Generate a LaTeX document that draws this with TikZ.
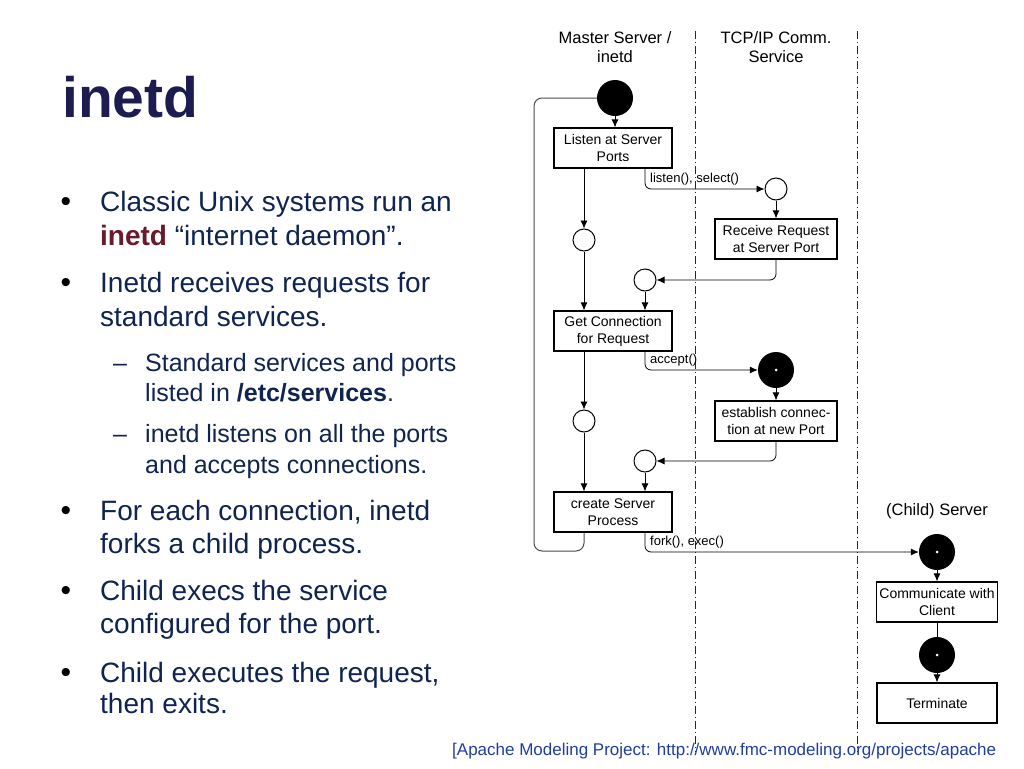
\documentclass[tikz,border=0pt]{standalone}
\usepackage{fontspec}
\setmainfont{Liberation Sans}
\usetikzlibrary{arrows.meta, positioning}
\definecolor{titleblue}{RGB}{28,28,80}
\definecolor{bodyblue}{RGB}{16,36,80}
\definecolor{inetdred}{RGB}{106,27,43}
\definecolor{linkblue}{RGB}{32,62,160}
\tikzset{
	procbox/.style={rectangle, draw=black, line width=1.3pt, minimum width=118, minimum height=40, align=center, inner sep=1pt, font=\fontsize{14}{17}\selectfont},
	waitstate/.style={circle, draw=black, line width=1pt, fill=white, minimum size=22, inner sep=0pt},
	syncstate/.style={circle, fill=black, minimum size=36, inner sep=0pt},
	arrow/.style={line width=0.8pt, -{Latex[length=8pt, width=7pt]}},
	lane/.style={line width=0.8pt, black!85, dash pattern=on 8pt off 3pt on 1pt off 3pt},
	lanehead/.style={align=center, font=\fontsize{16.5}{19.5}\selectfont},
	calllabel/.style={anchor=west, inner sep=0pt, font=\fontsize{13}{15}\selectfont},
	bulletline/.style={anchor=base west, inner sep=0pt, text=bodyblue, font=\fontsize{28}{34}\selectfont},
	subline/.style={anchor=base west, inner sep=0pt, text=bodyblue, font=\fontsize{25}{30}\selectfont},
	dot/.style={anchor=base, inner sep=0pt, font=\fontsize{30}{30}\selectfont}
}

\begin{document}
\begin{tikzpicture}[x=1pt, y=-1pt]
	\fill[white] (0,0) rectangle (1024,768);
	\useasboundingbox (0,0) rectangle (1024,768);
	
	% Slide text
	\node (title) [anchor=base west, inner sep=0pt, text=titleblue, font=\fontsize{57}{60}\selectfont\bfseries] at (62,117) {inetd};
	
	\node (b1) [dot] at (66,211) {•};
	\node (b1a) [bulletline] at (100,211) {Classic Unix systems run an};
	\node (b1b) [bulletline] at (100,245) {\textcolor{inetdred}{\textbf{inetd}} “internet daemon”.};
	\node (b2) [dot] at (66,292) {•};
	\node (b2a) [bulletline] at (100,292) {Inetd receives requests for};
	\node (b2b) [bulletline] at (100,326) {standard services.};
	\node (s1) [subline] at (113,371) {–};
	\node (s1a) [subline] at (145,371) {Standard services and ports};
	\node (s1b) [subline] at (145,401) {listed in \textbf{/etc/services}.};
	\node (s2) [subline] at (113,442) {–};
	\node (s2a) [subline] at (145,442) {inetd listens on all the ports};
	\node (s2b) [subline] at (145,473) {and accepts connections.};
	\node (b3) [dot] at (66,520) {•};
	\node (b3a) [bulletline] at (100,520) {For each connection, inetd};
	\node (b3b) [bulletline] at (100,553) {forks a child process.};
	\node (b4) [dot] at (66,600) {•};
	\node (b4a) [bulletline] at (100,600) {Child execs the service};
	\node (b4b) [bulletline] at (100,633) {configured for the port.};
	\node (b5) [dot] at (66,682) {•};
	\node (b5a) [bulletline] at (100,682) {Child executes the request,};
	\node (b5b) [bulletline] at (100,713) {then exits.};
	
	\node (source) [anchor=base west, inner sep=0pt, text=linkblue, font=\fontsize{17}{20}\selectfont] at (452,755) {[Apache Modeling Project: http://www.fmc-modeling.org/projects/apache};
	
	% Lanes
	\node (masterhead) [lanehead] at (615,47) {Master Server /\\inetd};
	\node (tcphead) [lanehead] at (776,47) {TCP/IP Comm.\\Service};
	\node (childhead) [lanehead] at (937,511) {(Child) Server};
	\coordinate (laneAtop) at (695,31);
	\coordinate (laneAbot) at (695,752);
	\coordinate (laneBtop) at (857,31);
	\coordinate (laneBbot) at (857,752);
	\draw [lane] (laneAtop) -- (laneAbot);
	\draw [lane] (laneBtop) -- (laneBbot);
	
	% States and activities
	\node (start) [syncstate] at (615,98) {};
	\node (listen) [procbox] at (613,148) {Listen at Server\\Ports};
	\node (c1) [waitstate] at (584,240) {};
	\node (c2) [waitstate] at (776,189) {};
	\node (recv) [procbox, minimum width=122] at (776,239) {Receive Request\\at Server Port};
	\node (c3) [waitstate] at (645,280) {};
	\node (getconn) [procbox] at (613,331) {Get Connection\\for Request};
	\node (acc) [syncstate] at (776,370) {};
	\node (establish) [procbox, minimum width=122] at (776,421) {establish connec-\\tion at new Port};
	\node (c4) [waitstate] at (584,421) {};
	\node (c5) [waitstate] at (645,461) {};
	\node (create) [procbox] at (613,512) {create Server\\Process};
	\node (child) [syncstate] at (937,552) {};
	\node (comm) [procbox, minimum width=121] at (937,602) {Communicate with\\Client};
	\node (childend) [syncstate] at (937,655) {};
	\node (term) [procbox, minimum width=120] at (937,703) {Terminate};
	\foreach \s in {acc, child, childend}
		\fill [white] (\s) circle (1.5);
	
	% Connectors
	\draw [arrow] (start) -- (start |- listen.north);
	\draw [arrow] (listen.south -| c1) -- (c1);
	\draw [arrow, rounded corners=6] (listen.south -| c3) |- (c2);
	\draw [arrow] (c2) -- (recv);
	\draw [arrow, rounded corners=6] (recv) |- (c3);
	\draw [arrow] (c1) -- (getconn.north -| c1);
	\draw [arrow] (c3) -- (getconn.north -| c3);
	\draw [arrow, rounded corners=6] (getconn.south -| c3) |- (acc);
	\draw [arrow] (acc) -- (establish);
	\draw [arrow] (getconn.south -| c4) -- (c4);
	\draw [arrow, rounded corners=6] (establish) |- (c5);
	\draw [arrow] (c4) -- (create.north -| c4);
	\draw [arrow] (c5) -- (create.north -| c5);
	\draw [arrow, rounded corners=6] (create.south -| c5) |- (child);
	\draw [arrow] (child) -- (comm);
	\draw [line width=0.8pt] (comm) -- (childend);
	\draw [arrow] (childend) -- (term);
	
	% Loop back to start
	\coordinate (loopcorner) at (534,551);
	\draw [line width=1pt, black!70, rounded corners=8] (create.south -| c1) |- (loopcorner) |- (start);
	
	% Call labels
	\node (lbllisten) [calllabel] at (650,179) {listen(), select()};
	\node (lblaccept) [calllabel] at (650,360) {accept()};
	\node (lblfork) [calllabel] at (650,542) {fork(), exec()};
	
\end{tikzpicture}
\end{document}
